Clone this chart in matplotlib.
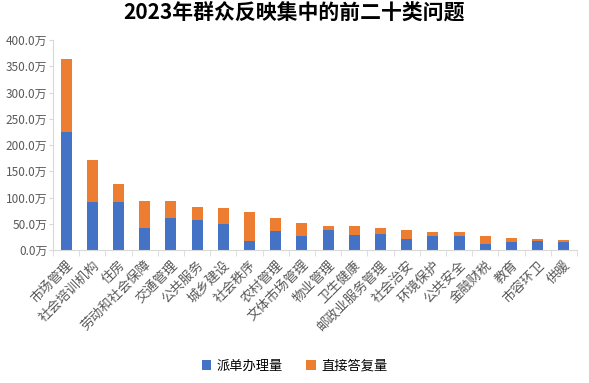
import matplotlib.pyplot as plt
import numpy as np

plt.rcParams['font.family'] = ['Noto Sans CJK SC', 'DejaVu Sans']

categories = ['市场管理', '社会培训机构', '住房', '劳动和社会保障', '交通管理', '公共服务',
              '城乡建设', '社会秩序', '农村管理', '文体市场管理', '物业管理', '卫生健康',
              '邮政业服务管理', '社会治安', '环境保护', '公共安全', '金融财税', '教育',
              '市容环卫', '供暖']
dispatched = [225, 91.5, 92, 42, 61, 57, 49.5, 17, 36, 26.7,
              38, 28.6, 30.5, 21, 26.7, 26.7, 11.4, 15.2, 17, 15.2]
total = [364, 171.5, 126, 93.5, 93, 82, 80, 72.5, 61, 51.7,
         45.7, 45.7, 42, 38, 34.3, 34.3, 26.7, 22.9, 21, 19]
direct = [t - d for t, d in zip(total, dispatched)]

blue = '#4472C4'
orange = '#ED7D31'
grey = '#595959'

fig = plt.figure(figsize=(5.89, 3.83), dpi=100)
ax = fig.add_axes([53 / 589, 1 - 250 / 383, 524 / 589, 210 / 383])

x = np.arange(len(categories))
ax.bar(x, dispatched, width=0.42, color=blue, label='派单办理量', zorder=2)
ax.bar(x, direct, width=0.42, bottom=dispatched, color=orange, label='直接答复量', zorder=2)

ax.set_xlim(-0.5, len(categories) - 0.5)
ax.set_ylim(0, 400)
yt = np.arange(0, 401, 50)
ax.set_yticks(yt)
ax.set_yticklabels(['%.1f万' % v for v in yt], color=grey, fontsize=8.5)
ax.tick_params(axis='y', length=3, color='#D9D9D9', pad=1)

ax.set_xticks(x)
ax.set_xticklabels(categories, rotation=45, ha='right', rotation_mode='anchor',
                   fontsize=9.5, color=grey)
ax.set_xticks(np.arange(-0.5, len(categories)), minor=True)
ax.tick_params(axis='x', which='major', length=0, pad=6)
ax.tick_params(axis='x', which='minor', length=4, color='#D9D9D9')

for s in ['top', 'right']:
    ax.spines[s].set_visible(False)
for s in ['left', 'bottom']:
    ax.spines[s].set_color('#D9D9D9')

fig.suptitle('2023年群众反映集中的前二十类问题', fontsize=15, fontweight='bold', y=0.995)

fig.legend(loc='center', bbox_to_anchor=(0.5, 1 - 366 / 383), ncol=2, frameon=False,
           fontsize=9.5, handlelength=0.7, handleheight=0.7, columnspacing=1.8, handletextpad=0.4)

fig.savefig('out.png', dpi=100)
